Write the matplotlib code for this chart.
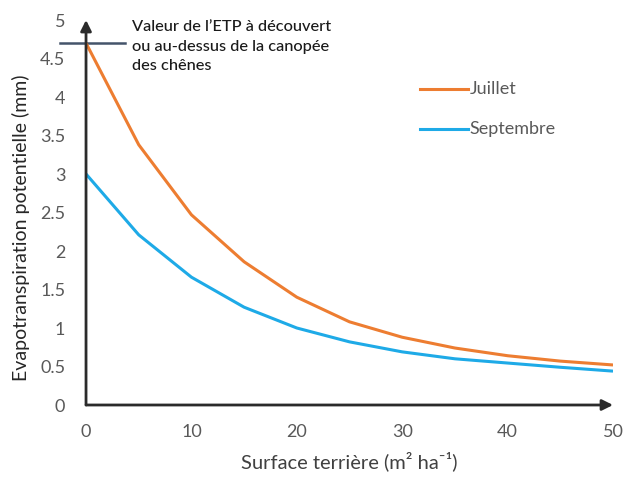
import matplotlib
matplotlib.use("Agg")
import matplotlib.pyplot as plt

# Surface terriere (m2 ha-1) and ETP values (mm)
surface = [0, 5, 10, 15, 20, 25, 30, 35, 40, 45, 50]
juillet = [4.70, 3.38, 2.47, 1.86, 1.40, 1.08, 0.88, 0.74, 0.64, 0.57, 0.52]
septembre = [3.00, 2.21, 1.66, 1.27, 1.00, 0.82, 0.69, 0.60, 0.545, 0.49, 0.44]
etp_ouvert = 4.70

x_ticks = [0, 10, 20, 30, 40, 50]
y_ticks = [0, 0.5, 1, 1.5, 2, 2.5, 3, 3.5, 4, 4.5, 5]
y_ticklabels = ["0", "0.5", "1", "1.5", "2", "2.5", "3", "3.5", "4", "4.5", "5"]

plt.rcParams['font.family'] = ['Lato', 'DejaVu Sans']

fig = plt.figure(figsize=(6.27, 4.8), dpi=100)
ax = fig.add_axes([0.1372, 0.15625, 0.8405, 0.80208])

orange = "#ed7d31"
blue = "#1eaae7"
gray = "#595959"

ax.plot(surface, juillet, color=orange, lw=2.2, solid_capstyle='butt')
ax.plot(surface, septembre, color=blue, lw=2.2, solid_capstyle='butt')

ax.set_xlim(0, 50)
ax.set_ylim(0, 5)
ax.set_xticks(x_ticks)
ax.set_yticks(y_ticks)
ax.set_yticklabels(y_ticklabels)
ax.tick_params(axis='both', length=0, labelsize=13, labelcolor=gray)
ax.tick_params(axis='x', pad=14)
ax.tick_params(axis='y', pad=15)

for s in ax.spines.values():
    s.set_visible(False)

# axes drawn as arrows
axis_col = "#2b2b2b"
ax.annotate("", xy=(0, 1.0), xytext=(0, 0), xycoords='axes fraction',
            arrowprops=dict(arrowstyle='-|>', color=axis_col, lw=2,
                            mutation_scale=16, shrinkA=0, shrinkB=0))
ax.annotate("", xy=(1.0, 0), xytext=(0, 0), xycoords='axes fraction',
            arrowprops=dict(arrowstyle='-|>', color=axis_col, lw=2,
                            mutation_scale=16, shrinkA=0, shrinkB=0))

# reference line for open-field ETP
ax.plot([-2.5, 3.7], [etp_ouvert, etp_ouvert], color="#44546a", lw=1.8,
        clip_on=False, zorder=1)
ax.text(4.4, 5.0, "Valeur de l\u2019ETP \u00e0 d\u00e9couvert\n"
        "ou au-dessus de la canop\u00e9e\ndes ch\u00eanes",
        fontsize=11.8, color="#1a1a1a", va='top', ha='left',
        linespacing=1.5, fontweight='medium')

# legend drawn by hand
ax.plot([31.7, 36.2], [4.11, 4.11], color=orange, lw=2.2)
ax.plot([31.7, 36.2], [3.59, 3.59], color=blue, lw=2.2)
ax.text(36.4, 4.11, "Juillet", fontsize=13, color=gray, va='center')
ax.text(36.4, 3.59, "Septembre", fontsize=13, color=gray, va='center')

ax.set_xlabel("Surface terri\u00e8re (m\u00b2 ha\u207b\u00b9)", fontsize=14.5,
              color="#404040", labelpad=8)
ax.set_ylabel("Evapotranspiration potentielle (mm)", fontsize=14,
              color="#262626")
ax.yaxis.set_label_coords(-0.107, 0.46)

fig.savefig("out.png", dpi=100)
